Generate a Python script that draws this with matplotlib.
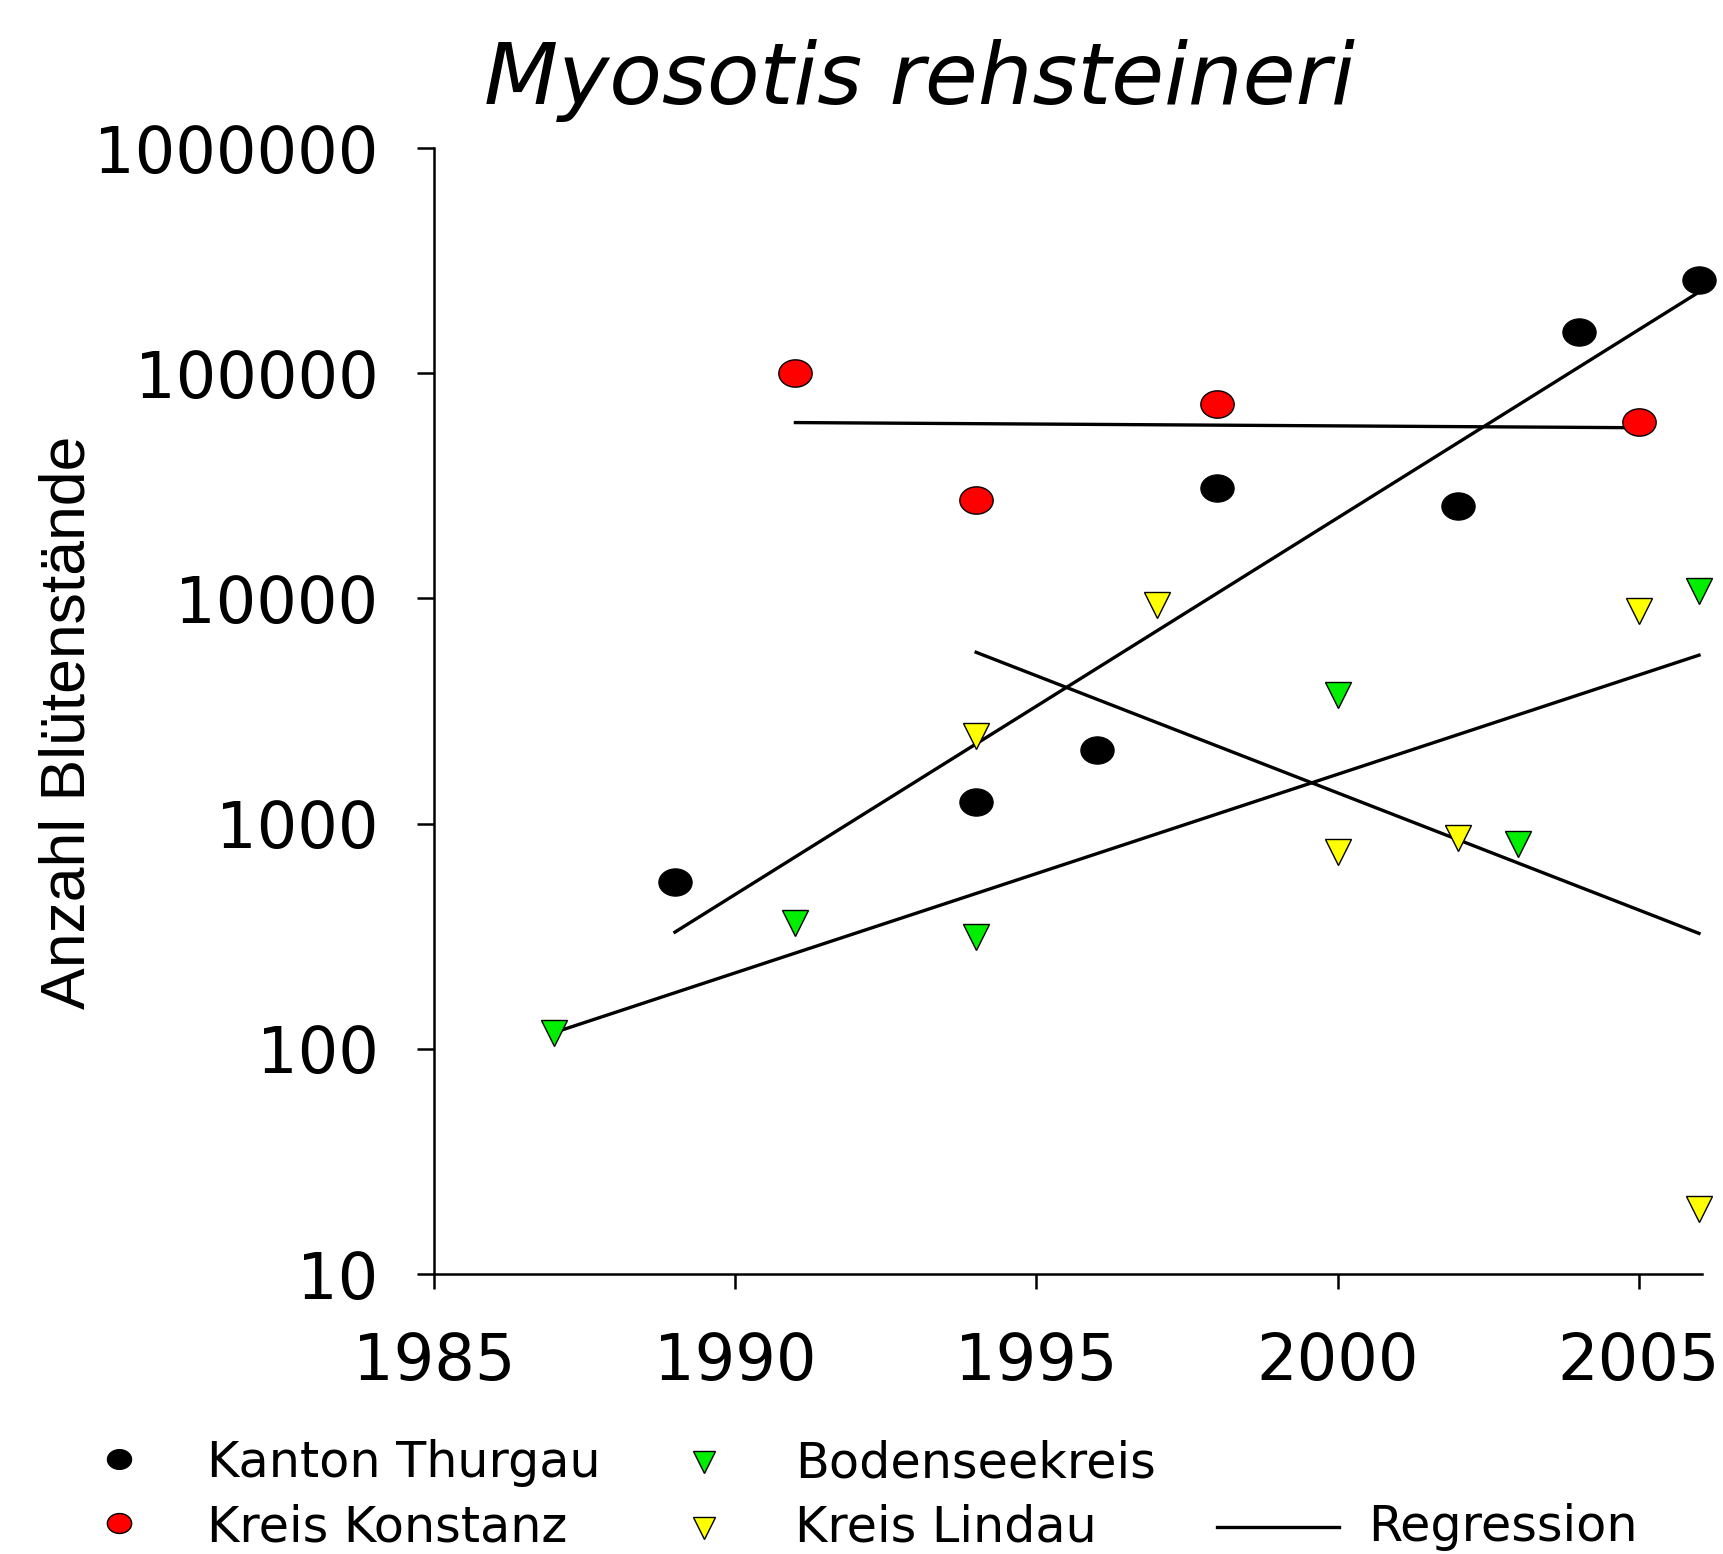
import numpy as np
import matplotlib
matplotlib.use("Agg")
import matplotlib.pyplot as plt
from matplotlib.path import Path
from matplotlib.lines import Line2D
from matplotlib.ticker import FixedLocator, FixedFormatter, NullLocator

# ---------------- data ----------------
title = "Myosotis rehsteineri"
ylabel = "Anzahl Blütenstände"

years_thurgau = [1989, 1994, 1996, 1998, 2002, 2004, 2006]
vals_thurgau = [550, 1245, 2130, 31000, 25600, 153000, 259000]

years_konstanz = [1991, 1994, 1998, 2005]
vals_konstanz = [100000, 27400, 72800, 60800]

years_bodensee = [1987, 1991, 1994, 2000, 2003, 2006]
vals_bodensee = [117, 361, 315, 3740, 811, 10770]

years_lindau = [1994, 1997, 2000, 2002, 2005, 2006]
vals_lindau = [2440, 9310, 750, 867, 8790, 19.5]

labels = ["Kanton Thurgau", "Kreis Konstanz", "Bodenseekreis", "Kreis Lindau", "Regression"]

xticks = [1985, 1990, 1995, 2000, 2005]
yticks = [10, 100, 1000, 10000, 100000, 1000000]
yticklabels = ["10", "100", "1000", "10000", "100000", "1000000"]

# ---------------- style ----------------
W, H = 1724, 1554
fig = plt.figure(figsize=(W / 100, H / 100), dpi=100)
fig.patch.set_facecolor("white")

ax = fig.add_axes([434 / W, 1 - 1274 / H, (1702 - 434) / W, (1274 - 148) / H])

# horizontally stretched ellipse marker
t = np.linspace(0, 2 * np.pi, 60)
ell = Path(np.column_stack([1.22 * np.cos(t), np.sin(t)]), closed=True)

RED = "#ff0000"
GREEN = "#00ee00"
YELLOW = "#ffff00"

ax.set_yscale("log")
ax.set_xlim(1985, 2006.05)
ax.set_ylim(10, 1000000)

# regression lines (least squares on log10 values)
for yrs, vals in [(years_thurgau, vals_thurgau), (years_konstanz, vals_konstanz),
                  (years_bodensee, vals_bodensee), (years_lindau, vals_lindau)]:
    x = np.array(yrs, dtype=float)
    ly = np.log10(np.array(vals, dtype=float))
    b, a = np.polyfit(x, ly, 1)
    xx = np.array([x.min(), x.max()])
    ax.plot(xx, 10 ** (a + b * xx), color="black", lw=2.4, zorder=2, clip_on=False)

ax.plot(years_thurgau, vals_thurgau, ls="none", marker=ell, ms=24,
        mfc="black", mec="black", mew=0.8, zorder=3, clip_on=False)
ax.plot(years_konstanz, vals_konstanz, ls="none", marker=ell, ms=24,
        mfc=RED, mec="black", mew=1.0, zorder=3, clip_on=False)
ax.plot(years_bodensee, vals_bodensee, ls="none", marker="v", ms=19,
        mfc=GREEN, mec="black", mew=1.0, zorder=3, clip_on=False)
ax.plot(years_lindau, vals_lindau, ls="none", marker="v", ms=19,
        mfc=YELLOW, mec="black", mew=1.0, zorder=3, clip_on=False)

# axes styling
for s in ["top", "right"]:
    ax.spines[s].set_visible(False)
for s in ["left", "bottom"]:
    ax.spines[s].set_linewidth(1.8)
    ax.spines[s].set_color("black")

ax.xaxis.set_major_locator(FixedLocator(xticks))
ax.set_xticklabels([str(v) for v in xticks])
ax.yaxis.set_major_locator(FixedLocator(yticks))
ax.yaxis.set_major_formatter(FixedFormatter(yticklabels))
ax.yaxis.set_minor_locator(NullLocator())
ax.xaxis.set_minor_locator(NullLocator())

ax.tick_params(axis="x", direction="out", length=11, width=1.8, pad=30,
               labelsize=46, colors="black")
ax.tick_params(axis="y", direction="out", length=12, width=1.8, pad=28,
               labelsize=46, colors="black")
for lab in ax.get_xticklabels() + ax.get_yticklabels():
    lab.set_family("DejaVu Sans")

# title
fig.text(919 / W, 1 - 104 / H, title, ha="center", va="baseline",
         fontsize=62, style="italic", family="DejaVu Sans")

# y label
fig.text(85 / W, 1 - 722 / H, ylabel, rotation=90, rotation_mode="anchor",
         ha="center", va="baseline", fontsize=45, family="Liberation Sans")

# legend (manual)
def fx(px):
    return px / W

def fy(py):
    return 1 - py / H

fig.add_artist(Line2D([fx(119)], [fy(1459)], transform=fig.transFigure, ls="none",
                      marker=ell, ms=17.5, mfc="black", mec="black", mew=0.8))
fig.add_artist(Line2D([fx(119)], [fy(1523)], transform=fig.transFigure, ls="none",
                      marker=ell, ms=17.5, mfc=RED, mec="black", mew=1.0))
fig.add_artist(Line2D([fx(704)], [fy(1462)], transform=fig.transFigure, ls="none",
                      marker="v", ms=16, mfc=GREEN, mec="black", mew=1.0))
fig.add_artist(Line2D([fx(704)], [fy(1528)], transform=fig.transFigure, ls="none",
                      marker="v", ms=16, mfc=YELLOW, mec="black", mew=1.0))
fig.add_artist(Line2D([fx(1217), fx(1339)], [fy(1527), fy(1527)],
                      transform=fig.transFigure, color="black", lw=2.4))

leg_fs = 35.5
fig.text(fx(207), fy(1477), labels[0], ha="left", va="baseline", fontsize=leg_fs, family="DejaVu Sans")
fig.text(fx(207), fy(1541), labels[1], ha="left", va="baseline", fontsize=leg_fs, family="DejaVu Sans")
fig.text(fx(795), fy(1477), labels[2], ha="left", va="baseline", fontsize=leg_fs, family="DejaVu Sans")
fig.text(fx(795), fy(1541), labels[3], ha="left", va="baseline", fontsize=leg_fs, family="DejaVu Sans")
fig.text(fx(1368), fy(1541), labels[4], ha="left", va="baseline", fontsize=leg_fs, family="DejaVu Sans")

fig.savefig("out.png", dpi=100, facecolor="white")
